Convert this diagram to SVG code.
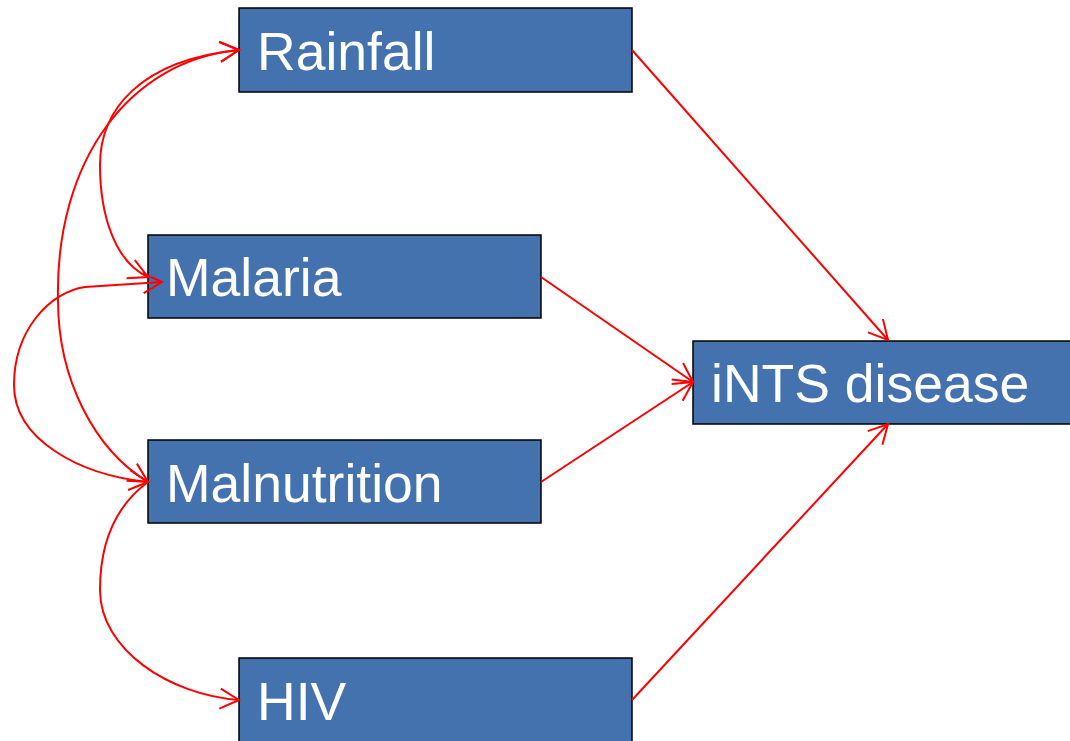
<svg xmlns="http://www.w3.org/2000/svg" width="1070" height="741" viewBox="0 0 1070 741">
<style>
.box{fill:#4472AE;stroke:#000;stroke-width:1.5}
.lbl{fill:#fff;font-family:"Liberation Sans",Arial,sans-serif;font-size:53.5px}
.con{fill:none;stroke:#FF0000;stroke-width:2}
</style>
<defs>
<marker id="ah" markerUnits="userSpaceOnUse" viewBox="-22 -12 24 24" markerWidth="24" markerHeight="24" refX="0" refY="0" orient="auto-start-reverse">
<path d="M-19,-10 L0,0 L-19,10" fill="none" stroke="#FF0000" stroke-width="2"/>
</marker>
</defs>
<rect width="1070" height="741" fill="#fff"/>
<g id="rainfall"><rect class="box" x="239" y="8" width="393" height="84"/><text class="lbl" x="257" y="70">Rainfall</text></g>
<g id="malaria"><rect class="box" x="148" y="235" width="393" height="83"/><text class="lbl" x="166" y="296">Malaria</text></g>
<g id="malnutrition"><rect class="box" x="148" y="440" width="393" height="83"/><text class="lbl" x="166" y="502">Malnutrition</text></g>
<g id="hiv"><rect class="box" x="239" y="658" width="393" height="90"/><text class="lbl" x="257" y="720">HIV</text></g>
<g id="ints"><rect class="box" x="693" y="341" width="400" height="83"/><text class="lbl" x="711" y="402">iNTS disease</text></g>
<g id="connectors">
<path class="con" d="M632,50 L888,340" marker-end="url(#ah)"/>
<path class="con" d="M541,277 L693,382" marker-end="url(#ah)"/>
<path class="con" d="M541,482 L693,382" marker-end="url(#ah)"/>
<path class="con" d="M632,700 L888,424" marker-end="url(#ah)"/>
<path class="con" d="M239,50 C130,60 55,160 58,300 C58,380 95,450 148,482" marker-start="url(#ah)" marker-end="url(#ah)"/>
<path class="con" d="M239,50 C140,60 100,110 100,165 C100,215 115,262 148,277" marker-start="url(#ah)" marker-end="url(#ah)"/>
<path class="con" d="M162,282 L85,287 C50,292 14,330 14,385 C14,440 80,475 148,482" marker-start="url(#ah)" marker-end="url(#ah)"/>
<path class="con" d="M148,482 C110,510 100,550 100,590 C100,650 170,695 239,700" marker-end="url(#ah)"/>
</g>
</svg>
